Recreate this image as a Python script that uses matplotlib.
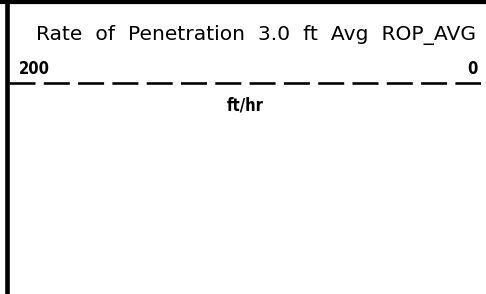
#!/usr/bin/env python3
"""Log track header: Rate of Penetration scale, 200 to 0 ft/hr."""

import matplotlib
matplotlib.use("Agg")
import matplotlib.pyplot as plt
from matplotlib.lines import Line2D

# header content
curve_title = "Rate  of  Penetration  3.0  ft  Avg  ROP_AVG"
curve_unit = "ft/hr"
scale_left = 200
scale_right = 0
scale_labels = ["200", "0"]

W, H = 486, 294
DPI = 100
PX = 72.0 / DPI  # points per pixel

plt.rcParams["lines.scale_dashes"] = False
narrow = ["Liberation Sans Narrow", "DejaVu Sans"]

fig = plt.figure(figsize=(W / DPI, H / DPI), dpi=DPI)
fig.patch.set_facecolor("white")

# track frame: thick top edge and thick left edge
fig.add_artist(Line2D([0, 1], [1 - 2 / H, 1 - 2 / H], transform=fig.transFigure,
                      color="black", lw=4.2 * PX, solid_capstyle="butt"))
fig.add_artist(Line2D([7 / W, 7 / W], [0, 1], transform=fig.transFigure,
                      color="black", lw=4.6 * PX, solid_capstyle="butt"))

# scale axes, y in pixels from the top
ax = fig.add_axes([9 / W, 0, (481 - 9) / W, 1])
ax.set_xlim(scale_left, scale_right)
ax.set_ylim(H, 0)
ax.axis("off")

line_y = 83
ax.plot([scale_left, scale_right], [line_y, line_y], color="black",
        lw=2.6 * PX, dashes=(26 * PX, 8.3 * PX), solid_capstyle="butt",
        dash_capstyle="butt")

num_style = dict(family=narrow, fontweight="bold", fontstretch="condensed",
                 fontsize=16.5 * PX)
ax.annotate(scale_labels[0], xy=(scale_left, 74), xytext=(10 * PX, 0),
            textcoords="offset points", ha="left", va="baseline", **num_style)
ax.annotate(scale_labels[1], xy=(scale_right, 74), xytext=(-3 * PX, 0),
            textcoords="offset points", ha="right", va="baseline", **num_style)

mid = (scale_left + scale_right) / 2
ax.text(mid, 110, curve_unit, ha="center", va="baseline", **num_style)

fig.text(256 / W, 1 - 40 / H, curve_title, ha="center", va="baseline",
         family="DejaVu Sans", fontsize=20.3 * PX)

fig.savefig("out.png", dpi=DPI, facecolor="white")
